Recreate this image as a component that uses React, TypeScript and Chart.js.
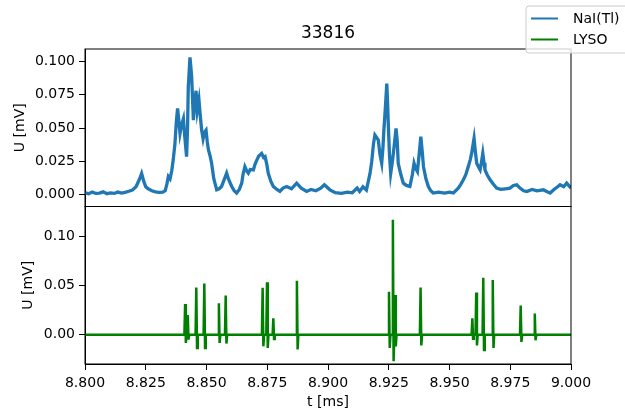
import React, { useEffect, useRef } from "react";
import { Chart, registerables } from "chart.js";

Chart.register(...registerables);

const TITLE = "33816";
const X_TICKS = [8.8, 8.825, 8.85, 8.875, 8.9, 8.925, 8.95, 8.975, 9.0];
const TOP_TICKS = [0, 0.025, 0.05, 0.075, 0.1];
const BOTTOM_TICKS = [0, 0.05, 0.1];

// NaI(Tl) trace (t in ms, U in mV)
const NAI_T = [
  8.8, 8.8015, 8.803, 8.8045, 8.806, 8.8075, 8.809, 8.8105, 8.812, 8.8135, 8.815, 8.8165, 8.818, 8.8195,
  8.821, 8.8225, 8.8233, 8.8242, 8.825, 8.826, 8.8275, 8.829, 8.8305, 8.832, 8.833, 8.8337, 8.8343, 8.835,
  8.8357, 8.8363, 8.837, 8.8376, 8.8381, 8.8386, 8.8391, 8.8397, 8.8405, 8.841, 8.8418, 8.8422, 8.8425,
  8.8432, 8.8436, 8.8439, 8.8443, 8.8446, 8.845, 8.8457, 8.8462, 8.8469, 8.8474, 8.848, 8.8486, 8.8492,
  8.8498, 8.8503, 8.8508, 8.8515, 8.8521, 8.853, 8.8542, 8.8552, 8.8562, 8.857, 8.8583, 8.859, 8.8597,
  8.8604, 8.8614, 8.8624, 8.8635, 8.8645, 8.865, 8.8658, 8.8665, 8.8672, 8.868, 8.8693, 8.87, 8.8707,
  8.8715, 8.8727, 8.8735, 8.8741, 8.8748, 8.8754, 8.8765, 8.8775, 8.879, 8.8802, 8.8815, 8.883, 8.885,
  8.8871, 8.889, 8.8912, 8.893, 8.895, 8.897, 8.8985, 8.9008, 8.903, 8.9055, 8.908, 8.91, 8.912, 8.913,
  8.9144, 8.9158, 8.9173, 8.918, 8.9187, 8.9193, 8.92, 8.9207, 8.9214, 8.9221, 8.9226, 8.923, 8.9236,
  8.9242, 8.9245, 8.9248, 8.9253, 8.9258, 8.9265, 8.9272, 8.928, 8.9285, 8.9289, 8.93, 8.931, 8.9323,
  8.9337, 8.9347, 8.9354, 8.936, 8.9368, 8.9375, 8.9382, 8.9388, 8.9393, 8.9403, 8.9413, 8.9423, 8.9433,
  8.9455, 8.948, 8.95, 8.9516, 8.9536, 8.9547, 8.9557, 8.9567, 8.9577, 8.9585, 8.9591, 8.9601, 8.9606,
  8.9612, 8.9619, 8.9626, 8.9632, 8.9637, 8.9642, 8.9646, 8.9655, 8.9667, 8.968, 8.9694, 8.971, 8.973,
  8.9749, 8.9763, 8.9777, 8.979, 8.9805, 8.9818, 8.984, 8.986, 8.9886, 8.99, 8.9914, 8.993, 8.9945,
  8.9955, 8.997, 8.9982, 9.0,
];
const NAI_U = [
  0.0015, 0.0008, 0.002, 0.001, 0.0012, 0.0022, 0.0008, 0.0014, 0.001, 0.002, 0.0012, 0.0018, 0.0026, 0.0035,
  0.006, 0.012, 0.016, 0.01, 0.006, 0.0045, 0.003, 0.0022, 0.0018, 0.002, 0.003, 0.008, 0.0137, 0.012,
  0.018, 0.026, 0.038, 0.055, 0.0647, 0.056, 0.046, 0.052, 0.057, 0.045, 0.0286, 0.05, 0.0808,
  0.103, 0.095, 0.088, 0.07, 0.056, 0.065, 0.078, 0.063, 0.071, 0.06, 0.0485, 0.042, 0.047,
  0.0485, 0.04, 0.0336, 0.029, 0.0236, 0.012, 0.0037, 0.0045, 0.0062, 0.01, 0.0162, 0.012, 0.009,
  0.0062, 0.003, 0.0013, 0.004, 0.0087, 0.015, 0.021, 0.018, 0.0162, 0.019, 0.0187, 0.023, 0.026,
  0.029, 0.031, 0.028, 0.0286, 0.023, 0.0162, 0.01, 0.0062, 0.004, 0.0025, 0.005, 0.0062, 0.0045,
  0.0087, 0.005, 0.0025, 0.004, 0.003, 0.005, 0.0075, 0.0037, 0.0015, 0.001, 0.002, 0.0015, 0.005, 0.0025,
  0.006, 0.0035, 0.016, 0.025, 0.038, 0.0448, 0.043, 0.041, 0.03, 0.0236, 0.035, 0.0485, 0.065,
  0.0833, 0.07, 0.0535, 0.03, 0.016, 0.025, 0.036, 0.0497, 0.04, 0.0236, 0.015, 0.0087, 0.007,
  0.0062, 0.015, 0.0236, 0.02, 0.0174, 0.03, 0.0435, 0.032, 0.021, 0.012, 0.0062, 0.003, 0.0013,
  0.002, 0.0012, 0.002, 0.0013, 0.005, 0.008, 0.0112, 0.015, 0.021, 0.026, 0.031, 0.0423, 0.033,
  0.0236, 0.021, 0.0187, 0.025, 0.031, 0.024, 0.0187, 0.015, 0.0112, 0.008, 0.005, 0.004, 0.0045,
  0.005, 0.007, 0.0075, 0.005, 0.003, 0.0025, 0.004, 0.003, 0.0037, 0.0025, 0.0013, 0.004, 0.006,
  0.0075, 0.006, 0.0087, 0.005,
];

// LYSO pulses: time (ms), peak (mV), undershoot (mV)
const LYSO_T = [
  8.8412, 8.8423, 8.8458, 8.8491, 8.8551, 8.8579, 8.8731, 8.8749, 8.8775, 8.8872,
  8.9251, 8.9267, 8.9276, 8.9381, 8.9594, 8.961, 8.9639, 8.9678, 8.9793, 8.9851,
];
const LYSO_PEAK = [
  0.0313, 0.02, 0.048, 0.052, 0.032, 0.04, 0.0478, 0.0535, 0.0168, 0.0549,
  0.0438, 0.117, 0.0404, 0.048, 0.0168, 0.043, 0.058, 0.0556, 0.0296, 0.0215,
];
const LYSO_DIP = [
  -0.0084, -0.005, -0.0135, -0.0135, -0.0084, -0.009, -0.0118, -0.0135, -0.0044, -0.015,
  -0.0135, -0.027, -0.012, -0.011, -0.004, -0.011, -0.0155, -0.0135, -0.0074, -0.0057,
];

const FONT = "'DejaVu Sans', sans-serif";

function buildLyso() {
  const pts: { x: number; y: number }[] = [{ x: 8.8, y: 0 }];
  LYSO_T.forEach((t, i) => {
    pts.push({ x: t - 0.0003, y: 0 });
    pts.push({ x: t, y: LYSO_PEAK[i] });
    pts.push({ x: t + 0.0003, y: LYSO_DIP[i] });
    pts.push({ x: t + 0.0006, y: 0 });
  });
  pts.push({ x: 9.0, y: 0 });
  return pts;
}

const framePlugin = {
  id: "frames",
  afterDraw(chart: any) {
    const ctx = chart.ctx;
    const { left, right } = chart.chartArea;
    const yt = chart.scales.yTop;
    const yb = chart.scales.yBottom;
    ctx.save();
    ctx.strokeStyle = "#000";
    ctx.lineWidth = 1;
    ctx.strokeRect(left, yt.top, right - left, yt.bottom - yt.top);
    ctx.strokeRect(left, yb.top, right - left, yb.bottom - yb.top);
    // title
    ctx.fillStyle = "#000";
    ctx.font = `17px ${FONT}`;
    ctx.textAlign = "center";
    ctx.textBaseline = "middle";
    ctx.fillText(TITLE, (left + right) / 2, 34);
    // legend
    const bx = 526, by = 6, bw = 120, bh = 47, r = 3;
    ctx.beginPath();
    ctx.moveTo(bx + r, by);
    ctx.lineTo(bx + bw - r, by);
    ctx.arcTo(bx + bw, by, bx + bw, by + r, r);
    ctx.lineTo(bx + bw, by + bh - r);
    ctx.arcTo(bx + bw, by + bh, bx + bw - r, by + bh, r);
    ctx.lineTo(bx + r, by + bh);
    ctx.arcTo(bx, by + bh, bx, by + bh - r, r);
    ctx.lineTo(bx, by + r);
    ctx.arcTo(bx, by, bx + r, by, r);
    ctx.closePath();
    ctx.fillStyle = "rgba(255,255,255,0.8)";
    ctx.fill();
    ctx.strokeStyle = "#cccccc";
    ctx.stroke();
    const items = chart.data.datasets;
    const ys = [18.5, 39.5];
    items.forEach((ds: any, i: number) => {
      ctx.strokeStyle = ds.borderColor;
      ctx.lineWidth = 2;
      ctx.beginPath();
      ctx.moveTo(531, ys[i]);
      ctx.lineTo(558, ys[i]);
      ctx.stroke();
      ctx.fillStyle = "#000";
      ctx.font = `14px ${FONT}`;
      ctx.textAlign = "left";
      ctx.textBaseline = "middle";
      ctx.fillText(ds.label, 573, ys[i] + 1);
    });
    ctx.restore();
  },
};

function yScale(ticks: number[], min: number, max: number, digits: number, titlePad: number, weight: number) {
  return {
    type: "linear" as const,
    position: "left" as const,
    stack: "v",
    stackWeight: 1,
    weight,
    min,
    max,
    afterBuildTicks: (s: any) => {
      s.ticks = ticks.map((v) => ({ value: v }));
    },
    afterFit: (s: any) => {
      s.width = 85;
    },
    ticks: {
      color: "#000",
      font: { family: FONT, size: 14 },
      padding: 4,
      callback: (v: any) => Number(v).toFixed(digits),
    },
    grid: {
      display: true,
      drawOnChartArea: false,
      drawTicks: true,
      tickLength: 6,
      color: "#000",
    },
    border: { display: true, color: "#000", width: 1 },
    title: {
      display: true,
      text: "U [mV]",
      color: "#000",
      font: { family: FONT, size: 14 },
      padding: { top: titlePad, bottom: 0 },
    },
  };
}

export default function App() {
  const ref = useRef<HTMLCanvasElement>(null);
  useEffect(() => {
    if (!ref.current) return;
    const chart = new Chart(ref.current, {
      type: "line",
      data: {
        datasets: [
          {
            label: "NaI(Tl)",
            data: NAI_T.map((t, i) => ({ x: t, y: NAI_U[i] })),
            yAxisID: "yTop",
            borderColor: "#1f77b4",
            borderWidth: 3.3,
            pointRadius: 0,
            tension: 0,
          },
          {
            label: "LYSO",
            data: buildLyso(),
            yAxisID: "yBottom",
            borderColor: "#008000",
            borderWidth: 2.5,
            pointRadius: 0,
            tension: 0,
          },
        ],
      },
      options: {
        animation: false,
        responsive: false,
        layout: { padding: { left: 0, right: 54, top: 49, bottom: 0 } },
        plugins: { legend: { display: false }, title: { display: false }, tooltip: { enabled: false } },
        scales: {
          x: {
            type: "linear",
            min: 8.8,
            max: 9.0,
            afterBuildTicks: (s: any) => {
              s.ticks = X_TICKS.map((v) => ({ value: v }));
            },
            afterFit: (s: any) => {
              s.height = 50;
            },
            ticks: {
              color: "#000",
              font: { family: FONT, size: 14 },
              padding: 5,
              maxRotation: 0,
              autoSkip: false,
              callback: (v: any) => Number(v).toFixed(3),
            },
            grid: { display: true, drawOnChartArea: false, drawTicks: true, tickLength: 6, color: "#000" },
            border: { display: true, color: "#000", width: 1 },
            title: {
              display: true,
              text: "t [ms]",
              color: "#000",
              font: { family: FONT, size: 14 },
              padding: { top: 0, bottom: 3 },
            },
          },
          yBottom: yScale(BOTTOM_TICKS, -0.0298, 0.1305, 2, 20, 0),
          yTop: yScale(TOP_TICKS, -0.0088, 0.1093, 3, 12, 1),
        },
      },
      plugins: [framePlugin],
    } as any);
    return () => chart.destroy();
  }, []);
  return (
    <div style={{ position: "absolute", left: 0, top: 0, width: 625, height: 414, background: "#fff" }}>
      <canvas ref={ref} width={625} height={414} style={{ display: "block" }} />
    </div>
  );
}
